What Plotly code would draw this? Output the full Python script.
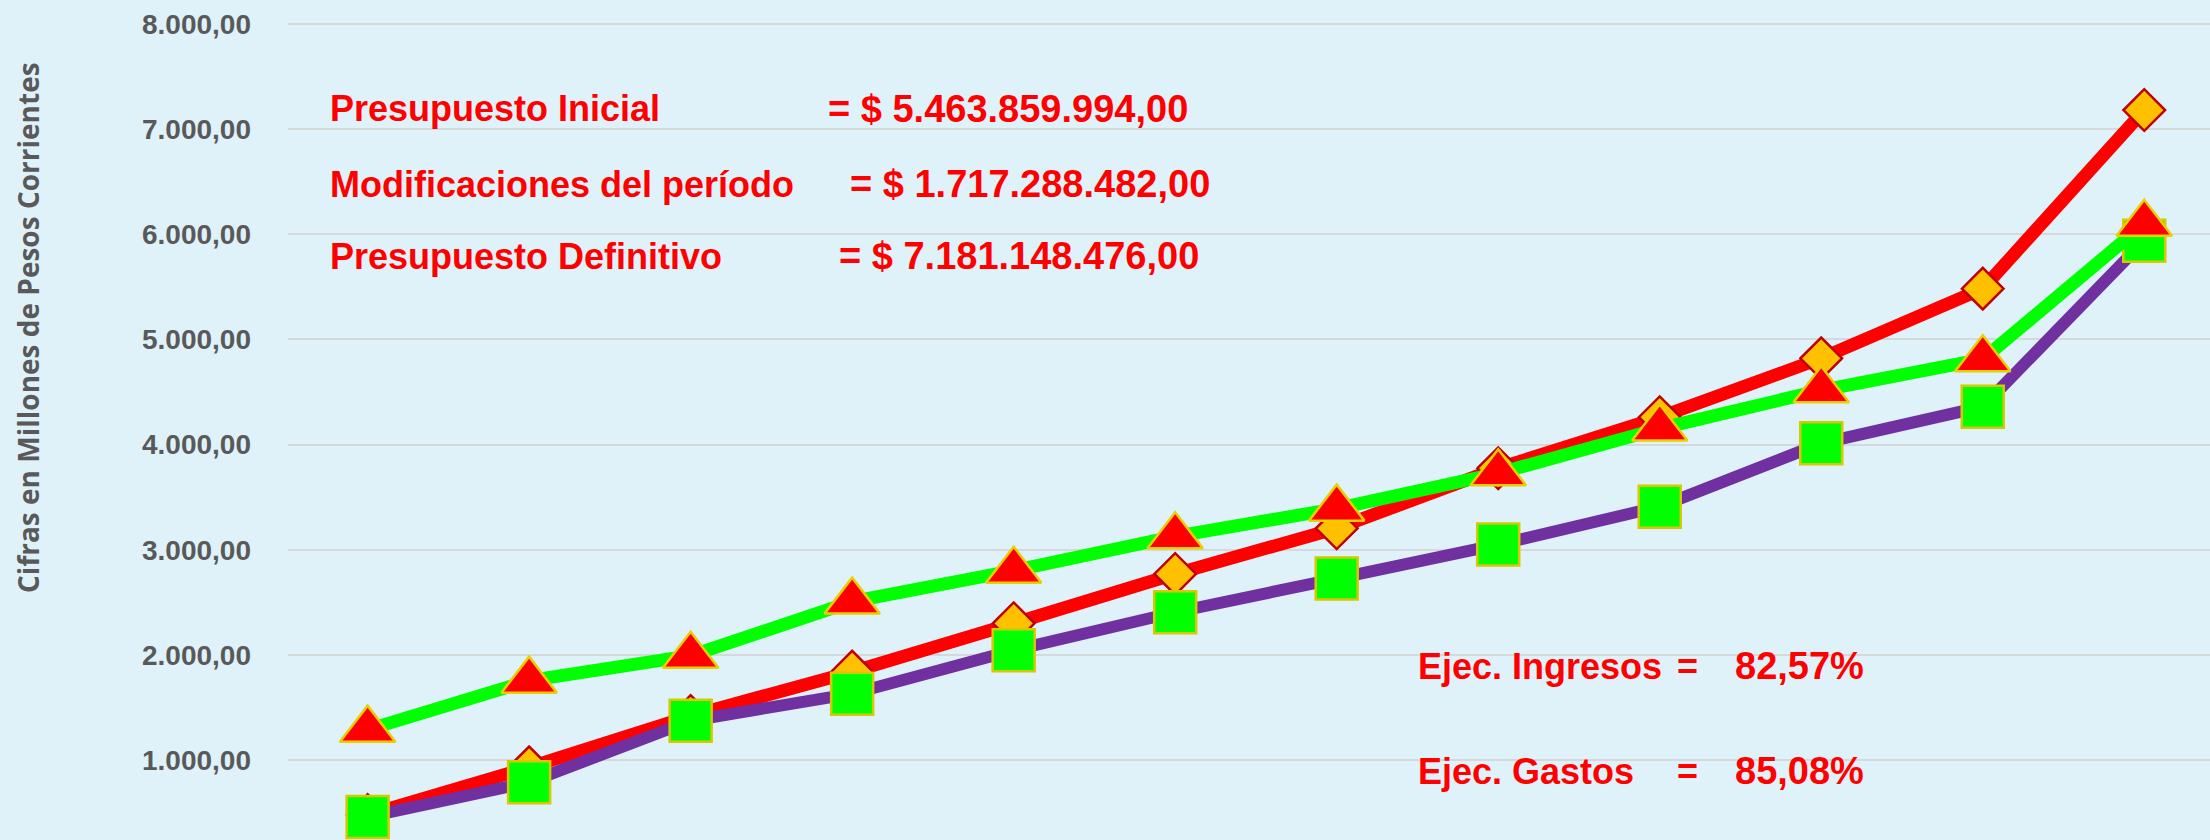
import plotly.graph_objects as go

# ---- data ----
periodos = [1, 2, 3, 4, 5, 6, 7, 8, 9, 10, 11, 12]
presupuesto = [480, 933, 1421, 1842, 2302, 2771, 3205, 3776, 4261, 4821, 5483, 7181]
ingresos = [1291, 1757, 1994, 2508, 2802, 3129, 3392, 3728, 4153, 4517, 4812, 6100]
gastos = [461, 791, 1376, 1633, 2046, 2407, 2727, 3050, 3411, 4013, 4361, 5939]

etiquetas_resumen = ["Presupuesto Inicial", "Modificaciones del período", "Presupuesto Definitivo"]
valores_resumen = ["= $ 5.463.859.994,00", "= $ 1.717.288.482,00", "= $ 7.181.148.476,00"]
etiquetas_ejec = ["Ejec. Ingresos", "Ejec. Gastos"]
valores_ejec = ["82,57%", "85,08%"]
titulo_y = "Cifras en Millones de Pesos Corrientes"

# ---- layout geometry (pixels) ----
W, H = 2210, 840
PL = 288            # plot-area left edge
PW = W - PL


def px_x(px):
    return (px - PL) / PW


def px_y(py):
    return 1 - py / H


BG = "#DFF2FA"
RED = "#FF0000"
FONT = "Liberation Sans"
TXT = 36
VAL = 38

fig = go.Figure()

fig.add_trace(go.Scatter(
    x=periodos, y=presupuesto, mode="lines+markers", name="Presupuesto",
    line=dict(color="#FF0000", width=13),
    marker=dict(symbol="diamond", size=32, color="#FFC000",
                line=dict(color="#C00000", width=2.5)),
    cliponaxis=False,
))
fig.add_trace(go.Scatter(
    x=periodos, y=gastos, mode="lines+markers", name="Gastos",
    line=dict(color="#7030A0", width=12),
    marker=dict(symbol="square", size=42, color="#00FF00",
                line=dict(color="#D8C800", width=2.5)),
    cliponaxis=False,
))
fig.add_trace(go.Scatter(
    x=periodos, y=ingresos, mode="lines+markers", name="Ingresos",
    line=dict(color="#00FF00", width=13),
    marker=dict(symbol="triangle-up", size=48, color="#FF0000",
                line=dict(color="#E8D000", width=2.5)),
    cliponaxis=False,
))

annotations = []
line_centers = [109, 184, 256]
value_x = [828, 850, 839]
for lab, val, yc, vx in zip(etiquetas_resumen, valores_resumen, line_centers, value_x):
    annotations.append(dict(text=lab, xref="paper", yref="paper", x=px_x(328), y=px_y(yc),
                            xanchor="left", yanchor="middle", showarrow=False,
                            font=dict(family=FONT, size=TXT, color=RED, weight="bold")))
    annotations.append(dict(text=val, xref="paper", yref="paper", x=px_x(vx - 2), y=px_y(yc),
                            xanchor="left", yanchor="middle", showarrow=False,
                            font=dict(family=FONT, size=VAL, color=RED, weight="bold")))

ejec_centers = [666, 771]
for lab, val, yc in zip(etiquetas_ejec, valores_ejec, ejec_centers):
    for txt, xp, sz in ((lab, 1416, TXT), ("=", 1675, TXT), (val, 1733, VAL)):
        annotations.append(dict(text=txt, xref="paper", yref="paper", x=px_x(xp), y=px_y(yc),
                                xanchor="left", yanchor="middle", showarrow=False,
                                font=dict(family=FONT, size=sz, color=RED, weight="bold")))

annotations.append(dict(text=titulo_y, xref="paper", yref="paper", x=px_x(28), y=px_y(328),
                        xanchor="center", yanchor="middle", textangle=-90, showarrow=False,
                        font=dict(family="Open Sans", size=28, color="#595959", weight="bold")))

fig.update_layout(
    width=W, height=H,
    margin=dict(l=PL, r=0, t=0, b=0, pad=0),
    paper_bgcolor=BG, plot_bgcolor=BG,
    showlegend=False,
    separators=",.",
    annotations=annotations,
    xaxis=dict(range=[0.507, 12.407], showgrid=False, zeroline=False,
               showticklabels=False, showline=False, ticks=""),
    yaxis=dict(range=[242, 8227], dtick=1000, tick0=0, tickformat=",.2f",
               showgrid=True, gridcolor="#D6D9DB", gridwidth=2,
               zeroline=False, showline=False, ticks="",
               ticklabelstandoff=36,
               tickfont=dict(family=FONT, size=28, color="#595959", weight="bold")),
)

fig.write_html(
    "out.html",
    config={"displayModeBar": False},
    post_script="document.body.style.margin='0';document.body.style.background='" + BG + "';",
)
